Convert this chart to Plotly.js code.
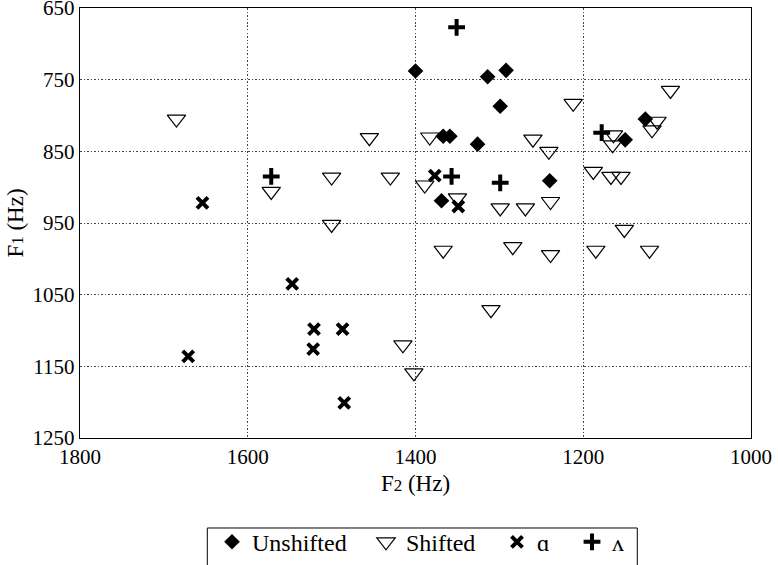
<!DOCTYPE html>
<html>
<head>
<meta charset="utf-8">
<script src="https://cdn.plot.ly/plotly-3.0.1.min.js"></script>
<style>html,body{margin:0;padding:0;background:#fff;}</style>
</head>
<body>
<div id="chart" style="width:778px;height:565px;"></div>
<script>
// Unshifted (filled diamonds)
const unshiftedF2 = [1400, 1314, 1292, 1299, 1126, 1150, 1367, 1359, 1326, 1240, 1369];
const unshiftedF1 = [738, 746, 737, 787, 805, 834, 829, 829, 840, 891, 919];

// Shifted (open triangles)
const shiftedF2 = [1685, 1572, 1500, 1455, 1430, 1500, 1212, 1096, 1112, 1118, 1164, 1165, 1383, 1260, 1241, 1389,
                   1350, 1299, 1269, 1239, 1188, 1167, 1155, 1151, 1367, 1284, 1239, 1185, 1121, 1310, 1415, 1402];
const shiftedF1 = [805, 906, 886, 831, 886, 952, 783, 765, 808, 820, 827, 841, 830, 833, 850, 897,
                   915, 929, 929, 920, 878, 885, 885, 959, 988, 983, 994, 988, 988, 1071, 1120, 1159];

// ɑ (x markers)
const alphaF2 = [1654, 1377, 1349, 1547, 1521, 1487, 1522, 1671, 1485];
const alphaF1 = [922, 884, 927, 1035, 1098, 1098, 1126, 1136, 1201];

// ʌ (plus markers)
const lambdaF2 = [1351, 1572, 1357, 1299, 1178];
const lambdaF1 = [677, 885, 885, 894, 824];

const seriesNames = ['Unshifted', 'Shifted', 'ɑ', 'ʌ'];
const xTicks = [1800, 1600, 1400, 1200, 1000];
const yTicks = [650, 750, 850, 950, 1050, 1150, 1250];

const FONT = 'Liberation Serif, Times New Roman, serif';

const traces = [
  {x: unshiftedF2, y: unshiftedF1, name: seriesNames[0], type: 'scatter', mode: 'markers', legend: 'legend',
   marker: {symbol: 'diamond', size: 12, color: '#000', line: {width: 0}}},
  {x: shiftedF2, y: shiftedF1, name: seriesNames[1], type: 'scatter', mode: 'markers', legend: 'legend2',
   marker: {symbol: 'triangle-down-open', size: 16, color: '#000', line: {width: 1.2, color: '#000'}}},
  {x: alphaF2, y: alphaF1, name: seriesNames[2], type: 'scatter', mode: 'markers', legend: 'legend3',
   marker: {symbol: 'x-thin-open', size: 11, color: '#000', line: {width: 4, color: '#000'}}},
  {x: lambdaF2, y: lambdaF1, name: seriesNames[3], type: 'scatter', mode: 'markers', legend: 'legend4',
   marker: {symbol: 'cross-thin-open', size: 12, color: '#000', line: {width: 4, color: '#000'}}}
];

const axisCommon = {
  showgrid: true, gridcolor: '#444', griddash: '1.5px,2px', gridwidth: 1,
  zeroline: false, showline: true, mirror: true, linecolor: '#000', linewidth: 1.2,
  ticks: '', ticklabeloverflow: 'allow', tickfont: {family: FONT, size: 21, color: '#000'}
};

function leg(xpx) {
  return {
    orientation: 'h', x: (xpx - 80) / 671, xanchor: 'left', y: -0.19, yanchor: 'top',
    borderwidth: 0, bgcolor: 'rgba(0,0,0,0)',
    font: {family: FONT, size: 24, color: '#000'}
  };
}

const layout = {
  width: 778, height: 565,
  margin: {l: 80, r: 27, t: 8, b: 127, autoexpand: false},
  paper_bgcolor: '#fff', plot_bgcolor: '#fff',
  font: {family: FONT, color: '#000'},
  showlegend: true,
  xaxis: Object.assign({}, axisCommon, {
    range: [1800, 1000], tickmode: 'array', tickvals: xTicks, ticktext: xTicks.map(String),
    title: {text: 'F<span style="font-size:17px">2</span> (Hz)', font: {family: FONT, size: 23, color: '#000'}, standoff: 6}
  }),
  yaxis: Object.assign({}, axisCommon, {
    range: [1250, 650], tickmode: 'array', tickvals: yTicks, ticktext: yTicks.map(String),
    title: {text: 'F<span style="font-size:17px">1</span> (Hz)', font: {family: FONT, size: 23, color: '#000'}, standoff: 2}
  }),
  legend: leg(212),
  legend2: leg(366),
  legend3: leg(497),
  legend4: leg(572),
  shapes: [{
    type: 'rect', xref: 'paper', yref: 'paper',
    x0: (207.3 - 80) / 671, x1: (637.3 - 80) / 671,
    y0: -0.31, y1: -0.2093,
    line: {color: '#000', width: 1}, fillcolor: 'rgba(0,0,0,0)', layer: 'below'
  }]
};

Plotly.newPlot('chart', traces, layout, {staticPlot: true, displayModeBar: false});
</script>
</body>
</html>
